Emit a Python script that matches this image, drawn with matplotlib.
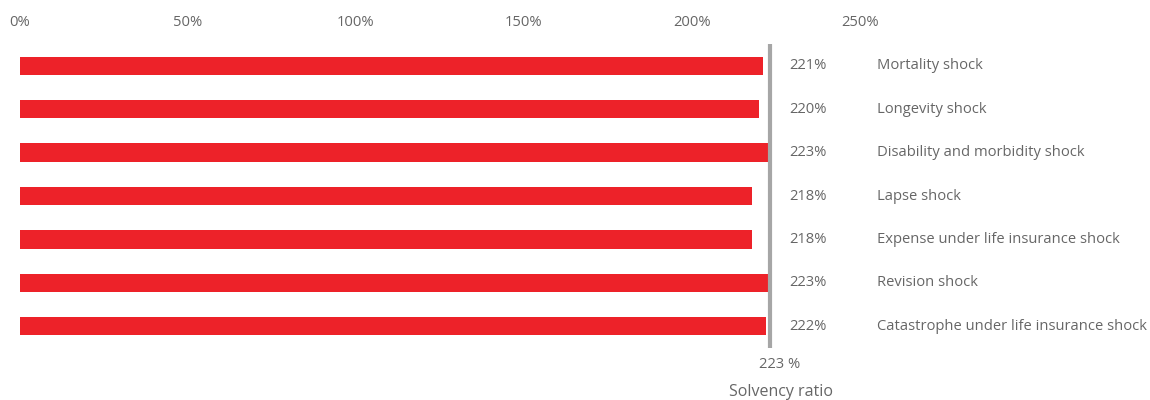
import matplotlib
matplotlib.use("Agg")
import matplotlib.pyplot as plt
import matplotlib.transforms as mtransforms

# data
categories = [
    "Mortality shock",
    "Longevity shock",
    "Disability and morbidity shock",
    "Lapse shock",
    "Expense under life insurance shock",
    "Revision shock",
    "Catastrophe under life insurance shock",
]
values = [221, 220, 223, 218, 218, 223, 222]
base_ratio = 223
tick_vals = [0, 50, 100, 150, 200, 250]

plt.rcParams['font.family'] = ['Open Sans', 'DejaVu Sans']
text_color = "#666666"
red = "#ED2229"
fs = 10.6

fig = plt.figure(figsize=(11.5, 4), dpi=100)
# axes from px x=20..860, y=44..348
ax = fig.add_axes([20 / 1150, 1 - 348 / 400, 840 / 1150, 304 / 400])

pos = list(range(len(categories)))
ax.barh(pos, values, height=0.42, color=red, left=0)
ax.set_xlim(0, 250)
ax.set_ylim(len(categories) - 0.5, -0.5)

ax.axvline(base_ratio + 0.2, color="#A6A6A6", linewidth=3)

for i, (c, v) in enumerate(zip(categories, values)):
    ax.text(234.5, i, f"{v}%", ha="center", va="center", fontsize=fs,
            color=text_color, clip_on=False)
    ax.text(255.2, i, c, ha="left", va="center", fontsize=fs,
            color=text_color, clip_on=False)

trans = mtransforms.blended_transform_factory(ax.transData, ax.transAxes)
ax.text(226, -0.055, f"{base_ratio} %", transform=trans, ha="center",
        va="center", fontsize=fs, color=text_color)
ax.text(226.5, -0.145, "Solvency ratio", transform=trans, ha="center",
        va="center", fontsize=11.5, color=text_color)

ax.xaxis.tick_top()
ax.set_xticks(tick_vals)
ax.set_xticklabels([f"{t}%" for t in tick_vals])
ax.tick_params(axis="x", length=0, pad=10, labelsize=fs, labelcolor=text_color)
ax.set_yticks([])
for s in ax.spines.values():
    s.set_visible(False)

fig.savefig("out.png", dpi=100)
